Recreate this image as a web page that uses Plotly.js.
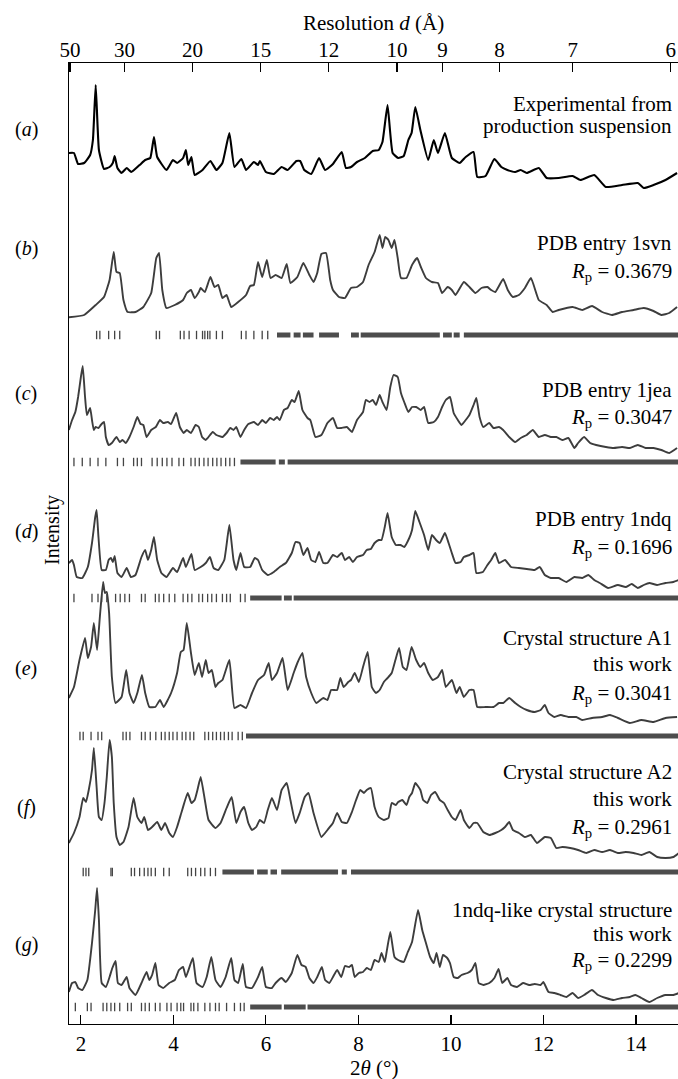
<!DOCTYPE html>
<html><head><meta charset="utf-8">
<script src="https://cdn.plot.ly/plotly-3.0.1.min.js"></script>
<style>html,body{margin:0;padding:0;background:#fff;}#chart{width:678px;height:1079px;}</style>
</head><body><div id="chart"></div>
<script>
// ---------- DATA (2theta in degrees, intensity in arbitrary units) ----------
const patternA = [[1.74,37],[1.85,37],[1.94,26],[2.07,27],[2.20,35],[2.26,50],[2.32,105],[2.39,40],[2.50,21],[2.62,23],[2.69,27],[2.73,34],[2.79,22],[2.88,17],[2.99,22],[3.09,18],[3.27,25],[3.39,30],[3.50,32],[3.58,53],[3.65,33],[3.85,20],[3.99,30],[4.08,27],[4.21,32],[4.27,40],[4.32,25],[4.39,33],[4.46,15],[4.63,20],[4.80,29],[4.93,20],[5.06,27],[5.21,57],[5.32,23],[5.47,31],[5.57,20],[5.74,28],[5.83,25],[5.87,29],[6.00,18],[6.17,16],[6.34,23],[6.47,20],[6.66,29],[6.74,29],[6.83,20],[6.98,16],[7.15,32],[7.28,20],[7.45,26],[7.64,38],[7.73,22],[7.84,23],[7.97,28],[8.14,32],[8.31,39],[8.44,40],[8.52,48],[8.63,85],[8.74,37],[8.86,32],[8.98,34],[9.08,50],[9.15,57],[9.23,83],[9.34,60],[9.51,30],[9.63,50],[9.72,37],[9.87,57],[10.02,32],[10.19,27],[10.32,33],[10.49,38],[10.57,13],[10.75,14],[10.94,31],[11.09,23],[11.22,20],[11.39,18],[11.51,20],[11.64,17],[11.90,22],[12.07,12],[12.33,12],[12.63,14],[12.80,10],[13.10,15],[13.35,3],[13.70,5],[14.04,7],[14.17,2],[14.38,5],[14.64,10],[14.89,17]];

const patternB = [[1.74,2.7],[2.07,5],[2.32,15],[2.50,23],[2.62,40],[2.71,68],[2.77,48],[2.84,47],[2.92,20],[3.01,8],[3.18,8],[3.35,13],[3.52,27],[3.63,62],[3.69,67],[3.76,30],[3.85,12],[4.03,15],[4.21,20],[4.29,27],[4.38,30],[4.46,22],[4.55,28],[4.59,32],[4.68,28],[4.80,43],[4.89,33],[4.97,35],[5.06,22],[5.15,25],[5.25,13],[5.40,18],[5.57,25],[5.66,34],[5.74,35],[5.83,58],[5.92,43],[6.02,60],[6.10,42],[6.21,45],[6.34,42],[6.45,56],[6.53,37],[6.68,43],[6.81,57],[6.94,45],[7.03,38],[7.11,47],[7.20,66],[7.30,67],[7.39,40],[7.45,30],[7.58,23],[7.71,22],[7.84,32],[7.97,33],[8.10,38],[8.22,55],[8.35,68],[8.46,85],[8.52,72],[8.58,83],[8.65,80],[8.72,72],[8.78,80],[8.85,62],[8.92,42],[9.04,42],[9.16,55],[9.27,62],[9.35,53],[9.46,42],[9.59,38],[9.72,37],[9.81,27],[9.93,33],[10.02,30],[10.10,25],[10.28,38],[10.40,33],[10.53,27],[10.66,32],[10.79,33],[10.87,30],[10.96,28],[11.13,41],[11.23,30],[11.34,23],[11.47,25],[11.60,32],[11.73,42],[11.90,20],[12.07,15],[12.20,8],[12.33,10],[12.63,13],[12.84,10],[13.05,14],[13.27,8],[13.48,5],[13.70,8],[13.95,10],[14.17,12],[14.38,9],[14.55,5],[14.72,7],[14.89,13]];

const patternC = [[1.74,25],[1.81,35],[1.88,43],[1.94,58],[2.00,78],[2.04,89],[2.09,58],[2.13,40],[2.20,47],[2.24,35],[2.28,25],[2.32,28],[2.38,27],[2.43,30],[2.50,33],[2.54,18],[2.60,10],[2.67,12],[2.77,18],[2.84,13],[2.90,15],[2.97,12],[3.05,18],[3.14,28],[3.22,38],[3.29,31],[3.35,30],[3.42,18],[3.52,25],[3.62,28],[3.71,35],[3.78,32],[3.88,33],[3.95,31],[4.06,42],[4.14,28],[4.22,22],[4.29,25],[4.38,22],[4.48,30],[4.55,28],[4.62,18],[4.70,15],[4.85,23],[4.93,20],[5.06,18],[5.15,22],[5.23,27],[5.30,25],[5.36,28],[5.45,18],[5.53,25],[5.62,31],[5.74,33],[5.83,30],[5.92,35],[6.00,32],[6.09,37],[6.17,35],[6.24,38],[6.30,35],[6.39,45],[6.47,47],[6.56,55],[6.62,53],[6.71,64],[6.79,45],[6.90,37],[6.96,35],[7.07,18],[7.20,20],[7.33,32],[7.45,37],[7.54,27],[7.63,27],[7.75,28],[7.86,23],[7.97,35],[8.10,43],[8.16,55],[8.24,53],[8.31,55],[8.38,50],[8.46,60],[8.52,53],[8.61,45],[8.69,68],[8.76,80],[8.85,78],[8.92,62],[8.99,53],[9.08,43],[9.16,48],[9.25,48],[9.35,45],[9.42,48],[9.51,32],[9.63,33],[9.72,38],[9.81,48],[9.89,55],[9.98,58],[10.06,42],[10.15,35],[10.23,30],[10.32,35],[10.40,40],[10.49,50],[10.55,57],[10.62,38],[10.70,28],[10.83,32],[10.92,27],[11.04,28],[11.13,25],[11.26,18],[11.39,13],[11.51,17],[11.64,20],[11.77,25],[11.90,18],[12.03,20],[12.16,18],[12.28,18],[12.41,15],[12.54,17],[12.67,7],[12.75,12],[12.88,18],[13.01,12],[13.14,10],[13.35,8],[13.52,7],[13.70,8],[13.87,7],[14.04,10],[14.21,7],[14.38,7],[14.55,5],[14.72,2],[14.89,7]];

const patternD = [[1.74,27],[1.81,30],[1.85,25],[1.91,13],[2.03,12],[2.15,23],[2.24,47],[2.31,73],[2.34,80],[2.38,53],[2.45,20],[2.54,20],[2.60,30],[2.65,32],[2.69,28],[2.73,34],[2.79,17],[2.88,13],[2.99,22],[3.08,13],[3.18,15],[3.31,33],[3.39,40],[3.45,30],[3.52,40],[3.58,53],[3.65,30],[3.74,17],[3.85,13],[3.99,22],[4.08,18],[4.21,32],[4.27,23],[4.39,36],[4.46,20],[4.59,23],[4.70,27],[4.79,33],[4.87,22],[4.97,20],[5.10,30],[5.21,65],[5.30,30],[5.36,20],[5.45,37],[5.53,23],[5.66,23],[5.76,32],[5.83,30],[5.92,20],[6.04,15],[6.17,18],[6.30,23],[6.43,27],[6.56,37],[6.64,48],[6.73,47],[6.81,35],[6.90,42],[6.98,30],[7.07,28],[7.15,38],[7.24,27],[7.33,27],[7.45,35],[7.54,33],[7.64,37],[7.71,30],[7.80,33],[7.88,28],[7.97,33],[8.10,35],[8.18,40],[8.27,41],[8.35,47],[8.44,50],[8.50,50],[8.57,63],[8.63,77],[8.72,53],[8.81,45],[8.91,45],[8.99,43],[9.10,52],[9.16,60],[9.23,79],[9.32,68],[9.42,55],[9.51,40],[9.59,55],[9.68,50],[9.76,47],[9.87,57],[9.95,47],[10.02,37],[10.10,27],[10.21,28],[10.28,33],[10.40,35],[10.49,37],[10.55,17],[10.69,18],[10.79,25],[10.87,30],[10.96,37],[11.04,27],[11.17,30],[11.30,23],[11.47,22],[11.64,21],[11.81,20],[11.92,23],[12.03,15],[12.16,12],[12.33,12],[12.50,8],[12.67,13],[12.84,12],[12.97,15],[13.10,10],[13.22,7],[13.40,2],[13.61,5],[13.78,3],[13.91,6],[14.04,2],[14.17,5],[14.29,7],[14.46,5],[14.64,7],[14.81,8],[14.93,10]];

const patternE = [[1.74,27],[1.85,38],[1.97,65],[2.09,87],[2.15,67],[2.22,78],[2.28,102],[2.35,75],[2.41,108],[2.48,143],[2.52,132],[2.56,133],[2.61,112],[2.67,48],[2.75,22],[2.88,28],[2.98,55],[3.05,32],[3.14,22],[3.22,32],[3.32,50],[3.39,32],[3.48,18],[3.61,18],[3.71,25],[3.79,18],[3.95,32],[4.08,52],[4.16,73],[4.22,75],[4.29,102],[4.38,72],[4.46,50],[4.55,62],[4.62,48],[4.70,65],[4.76,52],[4.83,55],[4.91,38],[4.97,42],[5.06,45],[5.21,65],[5.32,17],[5.45,20],[5.57,17],[5.70,32],[5.83,45],[5.96,50],[6.06,62],[6.13,45],[6.24,52],[6.36,67],[6.47,35],[6.60,52],[6.68,62],[6.79,72],[6.87,48],[6.98,32],[7.09,22],[7.24,27],[7.33,25],[7.41,35],[7.54,35],[7.61,47],[7.68,38],[7.78,43],[7.84,45],[7.92,52],[8.01,43],[8.10,58],[8.20,73],[8.29,38],[8.38,32],[8.46,35],[8.55,43],[8.63,47],[8.72,52],[8.80,65],[8.88,77],[8.96,58],[9.04,55],[9.15,78],[9.25,65],[9.34,58],[9.42,62],[9.51,52],[9.61,45],[9.72,48],[9.81,55],[9.89,38],[10.02,45],[10.12,32],[10.19,38],[10.28,28],[10.40,35],[10.49,35],[10.57,18],[10.75,18],[10.92,18],[11.04,22],[11.13,22],[11.26,27],[11.39,22],[11.51,18],[11.64,15],[11.81,13],[11.94,15],[12.03,20],[12.11,12],[12.24,8],[12.37,10],[12.54,8],[12.71,8],[12.84,5],[13.05,7],[13.27,8],[13.44,10],[13.61,7],[13.87,2],[14.12,5],[14.38,3],[14.64,7],[14.89,8]];

const patternF = [[1.74,19],[1.85,29],[1.97,45],[2.05,64],[2.11,60],[2.17,72],[2.24,92],[2.28,114],[2.34,75],[2.39,45],[2.45,42],[2.51,59],[2.56,85],[2.62,122],[2.67,105],[2.71,59],[2.77,25],[2.84,17],[2.92,20],[3.03,35],[3.14,64],[3.22,45],[3.31,39],[3.37,45],[3.45,32],[3.54,35],[3.65,40],[3.74,32],[3.82,39],[3.91,29],[3.99,25],[4.08,35],[4.19,52],[4.31,69],[4.39,59],[4.46,62],[4.52,72],[4.59,85],[4.68,62],[4.76,42],[4.91,34],[5.02,39],[5.15,54],[5.26,65],[5.36,39],[5.45,50],[5.53,55],[5.62,39],[5.70,32],[5.79,35],[5.87,42],[5.96,39],[6.04,52],[6.13,64],[6.24,52],[6.34,72],[6.45,79],[6.53,62],[6.64,39],[6.73,49],[6.84,65],[6.92,69],[7.03,49],[7.20,25],[7.33,32],[7.45,39],[7.54,49],[7.64,40],[7.75,39],[7.86,50],[7.95,62],[8.04,72],[8.12,69],[8.18,72],[8.27,74],[8.35,55],[8.44,45],[8.55,42],[8.65,44],[8.72,59],[8.81,57],[8.86,60],[8.95,62],[9.04,57],[9.10,65],[9.16,69],[9.23,79],[9.34,72],[9.40,62],[9.49,59],[9.57,67],[9.66,70],[9.76,62],[9.85,59],[9.93,52],[10.02,45],[10.10,42],[10.21,52],[10.28,42],[10.40,34],[10.49,39],[10.57,39],[10.70,30],[10.83,27],[10.96,29],[11.09,32],[11.17,35],[11.26,40],[11.34,32],[11.47,29],[11.60,25],[11.73,27],[11.86,19],[12.03,25],[12.16,24],[12.28,14],[12.41,15],[12.58,14],[12.75,12],[12.93,9],[13.10,12],[13.27,10],[13.44,12],[13.61,9],[13.78,10],[13.95,9],[14.12,7],[14.29,10],[14.46,5],[14.64,4],[14.81,5],[14.93,9]];

const patternG = [[1.74,8],[1.81,17],[1.88,18],[1.94,12],[2.03,10],[2.14,20],[2.24,57],[2.31,90],[2.35,112],[2.39,80],[2.45,17],[2.54,13],[2.62,23],[2.68,32],[2.75,39],[2.80,17],[2.88,15],[2.99,23],[3.05,12],[3.18,5],[3.31,17],[3.42,28],[3.48,20],[3.54,25],[3.61,37],[3.68,15],[3.78,12],[3.91,17],[4.03,20],[4.12,30],[4.21,33],[4.27,23],[4.42,42],[4.50,17],[4.63,13],[4.72,23],[4.82,43],[4.91,20],[5.02,13],[5.13,23],[5.25,42],[5.32,20],[5.40,17],[5.50,36],[5.57,13],[5.70,12],[5.83,23],[5.92,33],[6.00,13],[6.13,12],[6.21,17],[6.34,22],[6.43,18],[6.56,27],[6.68,45],[6.77,35],[6.86,33],[6.94,22],[7.03,17],[7.11,23],[7.21,33],[7.28,20],[7.37,17],[7.45,23],[7.54,30],[7.63,23],[7.71,34],[7.80,33],[7.86,35],[7.92,23],[8.01,27],[8.10,28],[8.18,32],[8.27,30],[8.35,40],[8.44,38],[8.50,47],[8.57,38],[8.61,48],[8.69,68],[8.78,43],[8.86,40],[8.98,38],[9.06,47],[9.16,58],[9.29,90],[9.38,70],[9.46,57],[9.55,43],[9.63,37],[9.69,47],[9.76,33],[9.83,45],[9.92,42],[9.98,37],[10.06,23],[10.15,22],[10.23,25],[10.36,27],[10.45,30],[10.53,37],[10.60,17],[10.70,15],[10.83,17],[10.94,22],[11.03,31],[11.11,17],[11.22,22],[11.30,15],[11.43,13],[11.56,17],[11.69,15],[11.81,16],[11.94,15],[12.00,18],[12.11,8],[12.24,7],[12.37,5],[12.50,3],[12.63,7],[12.75,2],[12.88,5],[13.05,10],[13.18,5],[13.35,2],[13.52,0],[13.70,2],[13.87,3],[13.99,5],[14.12,2],[14.29,-2],[14.46,2],[14.64,5],[14.81,5],[14.93,7]];

// reflection positions (2theta): isolated ticks and dense ranges
const ticksB = [2.34,2.41,2.60,2.73,2.84,3.63,3.70,4.15,4.23,4.34,4.50,4.63,4.68,4.74,4.79,4.93,5.06,5.47,5.57,5.74,5.92,6.04];
const bandsB = [[6.24,6.53],[6.60,6.75],[6.80,7.03],[7.15,7.58],[7.84,8.01],[8.05,9.76],[9.83,10.02],[10.06,10.19],[10.28,15]];
const ticksC = [1.85,2.03,2.20,2.37,2.54,2.79,2.92,3.14,3.22,3.31,3.54,3.65,3.76,3.86,3.97,4.12,4.22,4.38,4.47,4.56,4.66,4.75,4.85,4.94,5.03,5.13,5.22,5.32];
const bandsC = [[5.45,6.21],[6.28,6.41],[6.47,15]];
const ticksD = [1.85,2.24,2.37,2.45,2.56,2.75,2.85,2.95,3.05,3.31,3.39,3.61,3.69,3.79,3.91,4.03,4.21,4.31,4.40,4.55,4.63,4.74,4.83,4.93,5.06,5.15,5.23,5.45,5.55];
const bandsD = [[5.66,6.34],[6.39,6.56],[6.60,15]];
const ticksE = [1.98,2.05,2.22,2.37,2.45,2.91,2.98,3.06,3.31,3.39,3.50,3.62,3.74,3.82,3.91,3.99,4.08,4.19,4.27,4.36,4.44,4.68,4.76,4.85,4.93,5.02,5.10,5.19,5.27,5.40,5.49];
const bandsE = [[5.57,15]];
const ticksF = [2.05,2.11,2.17,2.65,2.68,3.09,3.16,3.27,3.37,3.45,3.52,3.61,3.79,3.91,4.31,4.39,4.48,4.59,4.68,4.80,4.91];
const bandsF = [[5.06,5.74],[5.81,6.04],[6.10,6.24],[6.33,7.56],[7.64,7.75],[7.84,15]];
const ticksG = [1.88,2.14,2.22,2.48,2.56,2.65,2.73,2.84,3.01,3.09,3.31,3.39,3.48,3.61,3.71,3.86,3.95,4.08,4.16,4.22,4.38,4.44,4.53,4.68,4.79,4.91,4.99,5.15,5.32,5.45,5.53];
const bandsG = [[5.66,6.34],[6.39,6.86],[6.90,15]];

const panelLabels = ["a","b","c","d","e","f","g"];
const panelTexts = [
  ["Experimental from","production suspension"],
  ["PDB entry 1svn","<i>R</i><sub>p</sub> = 0.3679"],
  ["PDB entry 1jea","<i>R</i><sub>p</sub> = 0.3047"],
  ["PDB entry 1ndq","<i>R</i><sub>p</sub> = 0.1696"],
  ["Crystal structure A1","this work","<i>R</i><sub>p</sub> = 0.3041"],
  ["Crystal structure A2","this work","<i>R</i><sub>p</sub> = 0.2961"],
  ["1ndq-like crystal structure","this work","<i>R</i><sub>p</sub> = 0.2299"]
];
const dTickLabels = [50,30,20,15,12,10,9,8,7,6];
const WAVELENGTH = 1.5406; // Cu K-alpha, Angstrom

// ---------- LAYOUT CONSTANTS ----------
const PLOT_TOP = 63, PLOT_BOTTOM = 1024;    // pixel rows of the frame
const yOf = py => PLOT_BOTTOM - py;          // pixel row -> y axis units
const patterns = [patternA,patternB,patternC,patternD,patternE,patternF,patternG];
const tickSets = [null,ticksB,ticksC,ticksD,ticksE,ticksF,ticksG];
const bandSets = [null,bandsB,bandsC,bandsD,bandsE,bandsF,bandsG];
const baseRows = [190,320,455,590,725,862,1000];
const tickRows = [null,335,462,598,736,872,1007];
const labelRows = [129,248,393,531,668,807,944];
const textRows = [[104,126],[243,272],[390,418],[519,548],[638,664,694],[772,799,828],[910,934,961]];

const FONT = "Liberation Serif";
const traces = [];
patterns.forEach((p,i)=>{
  const off = yOf(baseRows[i]);
  traces.push({type:"scatter",mode:"lines",x:p.map(v=>v[0]),y:p.map(v=>v[1]+off),
    line:{color: i===0 ? "#000000" : "#3d3d3d", width: i===0 ? 2.1 : 1.9, shape:"spline", smoothing:0.4},
    hoverinfo:"skip",showlegend:false});
  if (tickSets[i]) {
    const ty = yOf(tickRows[i]);
    traces.push({type:"scatter",mode:"markers",x:tickSets[i],y:tickSets[i].map(()=>ty),
      marker:{symbol:"line-ns",size:6,color:"#444",line:{width:1.3,color:"#444"}},
      hoverinfo:"skip",showlegend:false});
    const bx=[],by=[];
    bandSets[i].forEach(b=>{bx.push(b[0],b[1],null);by.push(ty,ty,null);});
    traces.push({type:"scatter",mode:"lines",x:bx,y:by,line:{color:"#4d4d4d",width:5},
      hoverinfo:"skip",showlegend:false});
  }
});
// invisible trace for the top (resolution) axis
traces.push({type:"scatter",mode:"lines",x:[2],y:[0],xaxis:"x2",yaxis:"y",
  line:{width:0},hoverinfo:"skip",showlegend:false,opacity:0});

const topTickVals = dTickLabels.map(d=>2*Math.asin(WAVELENGTH/(2*d))*180/Math.PI);
const XRANGE = [1.743, 14.91];

const annotations = [];
panelLabels.forEach((l,i)=>{
  annotations.push({xref:"paper",yref:"y",x:0,y:yOf(labelRows[i]),xanchor:"center",yanchor:"middle",
    xshift:-43,showarrow:false,text:"(<i>"+l+"</i>)",font:{family:FONT,size:20,color:"#000"}});
  panelTexts[i].forEach((t,j)=>{
    annotations.push({xref:"paper",yref:"y",x:1,y:yOf(textRows[i][j]),xanchor:"right",yanchor:"middle",
      xshift:-4,showarrow:false,text:t,font:{family:FONT,size:21,color:"#000"}});
  });
});
annotations.push({xref:"paper",yref:"y",x:0,y:yOf(530),xanchor:"center",yanchor:"middle",xshift:-17,
  showarrow:false,textangle:-90,text:"Intensity",font:{family:FONT,size:20,color:"#000"}});
annotations.push({xref:"paper",yref:"paper",x:0.5,y:0,xanchor:"center",yanchor:"middle",yshift:-44,
  showarrow:false,text:"2<i>θ</i> (°)",font:{family:FONT,size:21,color:"#000"}});
annotations.push({xref:"paper",yref:"paper",x:0.5,y:1,xanchor:"center",yanchor:"middle",yshift:40,
  showarrow:false,text:"Resolution <i>d</i> (Å)",font:{family:FONT,size:21,color:"#000"}});

const layout = {
  width:678,height:1079,
  margin:{l:69,r:0,t:PLOT_TOP,b:1079-PLOT_BOTTOM},
  paper_bgcolor:"#fff",plot_bgcolor:"#fff",
  font:{family:FONT,size:20,color:"#000"},
  xaxis:{range:XRANGE,tickvals:[2,4,6,8,10,12,14],ticks:"inside",ticklen:9,tickwidth:1.2,tickcolor:"#000",
    showline:true,linecolor:"#000",linewidth:1.3,showgrid:false,zeroline:false,
    tickfont:{family:FONT,size:21,color:"#000"}},
  xaxis2:{overlaying:"x",side:"top",anchor:"y",range:XRANGE,tickvals:topTickVals,ticktext:dTickLabels.map(String),
    ticks:"inside",ticklen:9,tickwidth:1.2,tickcolor:"#000",showline:true,linecolor:"#000",linewidth:1.3,
    showgrid:false,zeroline:false,ticklabelstandoff:-4,tickfont:{family:FONT,size:21,color:"#000"}},
  yaxis:{range:[0,PLOT_BOTTOM-PLOT_TOP],showline:true,linecolor:"#000",linewidth:1.3,showticklabels:false,
    ticks:"",showgrid:false,zeroline:false},
  annotations:annotations,
  showlegend:false
};
Plotly.newPlot("chart",traces,layout,{staticPlot:true,displayModeBar:false});
</script></body></html>
